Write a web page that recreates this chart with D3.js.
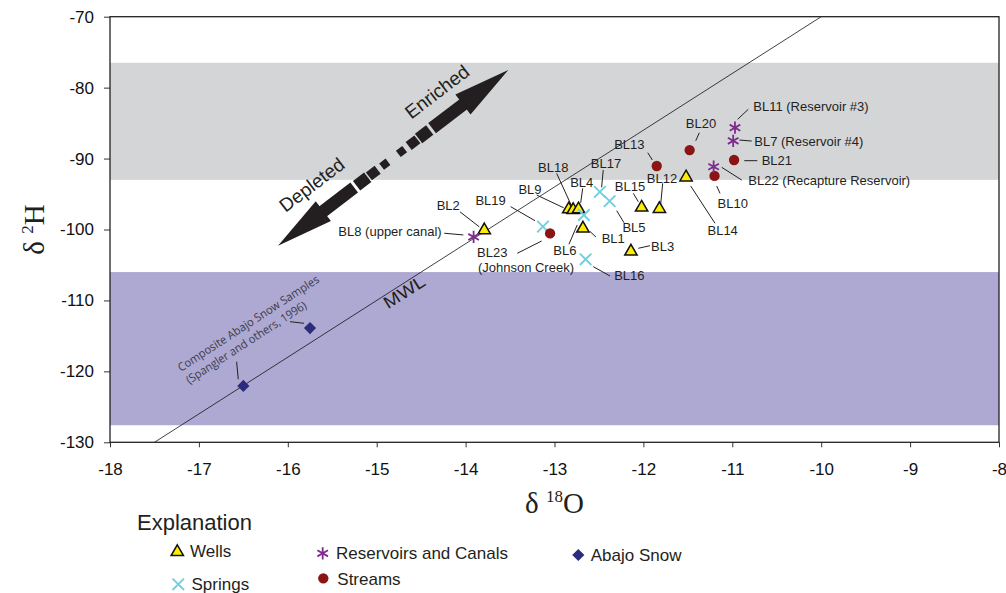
<!DOCTYPE html>
<html>
<head>
<meta charset="utf-8">
<script src="https://cdn.jsdelivr.net/npm/d3@7"></script>
<style>
	body { margin: 0; background: #fff; }
	svg { display: block; }
	text { font-family: "Liberation Sans", Arial, sans-serif; fill: #231f20; }
</style>
</head>
<body>
<svg id="chart" width="1006" height="593"></svg>
<script>
// ---- data ----
var xTicks = [-18, -17, -16, -15, -14, -13, -12, -11, -10, -9, -8];
var yTicks = [-130, -120, -110, -100, -90, -80, -70];
var enrichedBand = [-93, -76.5];
var depletedBand = [-127.6, -106];
var mwlX = [-17.5, -10];
var mwlY = [-130, -70];

var wells = [
	{id: "BL2", x: -13.79, y: -100.1},
	{id: "BL9", x: -12.84, y: -97.15},
	{id: "BL18", x: -12.79, y: -97.25},
	{id: "BL4", x: -12.73, y: -97.15},
	{id: "BL1", x: -12.68, y: -99.85},
	{id: "BL15", x: -12.02, y: -96.9},
	{id: "BL12", x: -11.82, y: -97.1},
	{id: "BL14", x: -11.52, y: -92.65},
	{id: "BL3", x: -12.14, y: -103.1}
];
var springs = [
	{id: "BL19", x: -13.13, y: -99.6},
	{id: "BL6", x: -12.67, y: -97.95},
	{id: "BL17", x: -12.49, y: -94.7},
	{id: "BL5", x: -12.38, y: -96.0},
	{id: "BL16", x: -12.65, y: -104.2}
];
var streams = [
	{id: "BL23", x: -13.05, y: -100.55, note: "(Johnson Creek)"},
	{id: "BL13", x: -11.85, y: -91.05},
	{id: "BL20", x: -11.48, y: -88.8},
	{id: "BL10", x: -11.2, y: -92.45},
	{id: "BL21", x: -10.98, y: -90.2}
];
var reservoirs = [
	{id: "BL8", x: -13.91, y: -101.05, note: "(upper canal)"},
	{id: "BL11", x: -10.97, y: -85.65, note: "(Reservoir #3)"},
	{id: "BL7", x: -10.99, y: -87.5, note: "(Reservoir #4)"},
	{id: "BL22", x: -11.21, y: -91.15, note: "(Recapture Reservoir)"}
];
var snow = [
	{x: -16.5, y: -122.05},
	{x: -15.75, y: -113.9}
];
var snowNote = ["Composite Abajo Snow Samples", "(Spangler and others, 1996)"];
var legendLabels = ["Wells", "Springs", "Reservoirs and Canals", "Streams", "Abajo Snow"];
// arrow tips, in data units (enriched, depleted)
var arrowTips = [[-13.52, -77.51], [-16.11, -102.29]];

// ---- label placement (pixel offsets from the point) ----
// dx,dy = text anchor, l = leader line x1,y1,x2,y2
var labelLayout = {
	BL13: {dx: -27.4, dy: -22, a: "middle", l: [-9, -13.3, -4.4, -6]},
	BL18: {dx: -19.9, dy: -42.6, a: "middle", l: [-16.5, -36.6, -1.5, -3.9]},
	BL17: {dx: 6.1, dy: -28.6, a: "middle", l: [3.4, -21.9, 1.8, -4.6]},
	BL4: {dx: 3.2, dy: -26.5, a: "middle", l: [4.2, -20.9, 2.2, -6.5]},
	BL9: {dx: -38.7, dy: -19.9, a: "middle", l: [-32, -14.2, -5, -1.5]},
	BL15: {dx: -11.6, dy: -20.8, a: "middle", l: [-8.3, -14.2, -3.3, -5.8]},
	BL12: {dx: 2.6, dy: -30.9, a: "middle", l: [3.3, -25.6, 1.3, -4.9]},
	BL14: {dx: 36.6, dy: 53.3, a: "middle", l: [4.6, 8.6, 28.9, 45.9]},
	BL2: {dx: -36, dy: -25.1, a: "middle", l: [-24.3, -18.4, -5, -3.4]},
	BL19: {dx: -52.3, dy: -26, a: "middle", l: [-32.3, -20, -8, -6]},
	BL8: {dx: -31.9, dy: -5, a: "end", l: [-29.3, -3.7, -10.3, -2]},
	BL1: {dx: 30.3, dy: 9.6, a: "middle", l: [7, 3, 13, 8.6]},
	BL5: {dx: 24.4, dy: 26.2, a: "middle", l: [7.1, 9.6, 14.4, 21.6]},
	BL6: {dx: -18.9, dy: 35.7, a: "middle", l: [-14.9, 29.3, -6.6, 10]},
	BL23: {dx: -57.8, dy: 19.3, a: "middle", l: [-32.8, 19.9, -8.4, 7.6], ndx: -24.1, ndy: 34.3},
	BL3: {dx: 31.7, dy: -4.8, a: "middle", l: [7.3, -3.2, 19, -5.8]},
	BL16: {dx: 43.7, dy: 15.7, a: "middle", l: [7.7, 7.4, 24.4, 16.7]},
	BL20: {dx: 11.4, dy: -26.7, a: "middle", l: [9.7, -17.3, 6.1, -9.3]},
	BL11: {dx: 18.3, dy: -21, a: "start", l: [13.3, -18.4, 2.7, -8.4]},
	BL7: {dx: 21.1, dy: 0.2, a: "start", l: [6.1, -0.8, 18.5, 0.2]},
	BL21: {dx: 27.6, dy: 0.7, a: "start", l: [10.2, 0.7, 23.2, 0.7]},
	BL22: {dx: 34.7, dy: 13.3, a: "start", l: [8.1, 0.6, 28.1, 13.3]},
	BL10: {dx: 18.2, dy: 27.4, a: "middle", l: [2.2, 10.1, 5.5, 17.4]}
};

var colors = {
	grey: "#d4d5d7", purple: "#aea9d2", well: "#ffec00", spring: "#6fd0e0",
	stream: "#8b1515", reservoir: "#7e2b8c", snow: "#2b2d7c", ink: "#231f20"
};

var svg = d3.select("#chart");
var x = d3.scaleLinear().domain([-18, -8]).range([110, 999]);
var y = d3.scaleLinear().domain([-130, -70]).range([442.3, 16.7]);
var plotW = x(-8) - x(-18), plotH = y(-130) - y(-70);

svg.append("clipPath").attr("id", "plotClip")
	.append("rect").attr("x", x(-18)).attr("y", y(-70)).attr("width", plotW).attr("height", plotH);

// bands
[[enrichedBand, colors.grey], [depletedBand, colors.purple]].forEach(function (b) {
	svg.append("rect")
		.attr("x", x(-18)).attr("width", plotW)
		.attr("y", y(b[0][1])).attr("height", y(b[0][0]) - y(b[0][1]))
		.attr("fill", b[1]);
});

// meteoric water line
svg.append("line")
	.attr("clip-path", "url(#plotClip)")
	.attr("x1", x(mwlX[0])).attr("y1", y(mwlY[0]))
	.attr("x2", x(mwlX[1])).attr("y2", y(mwlY[1]))
	.attr("stroke", "#111").attr("stroke-width", 0.8);

var mwlAngle = Math.atan2(y(mwlY[1]) - y(mwlY[0]), x(mwlX[1]) - x(mwlX[0])) * 180 / Math.PI;
svg.append("text")
	.attr("transform", "translate(" + x(-14.69) + "," + y(-108.8) + ") rotate(" + mwlAngle + ")")
	.attr("text-anchor", "middle").attr("dy", "0.35em")
	.attr("font-size", 17).attr("textLength", 46).attr("lengthAdjust", "spacingAndGlyphs")
	.text("MWL");

// enriched / depleted arrow
var tE = [x(arrowTips[0][0]), y(arrowTips[0][1])];
var tD = [x(arrowTips[1][0]), y(arrowTips[1][1])];
var aLen = Math.hypot(tE[0] - tD[0], tE[1] - tD[1]) / 2;
var aAng = Math.atan2(tE[1] - tD[1], tE[0] - tD[0]) * 180 / Math.PI;
var arrow = svg.append("g")
	.attr("transform", "translate(" + (tE[0] + tD[0]) / 2 + "," + (tE[1] + tD[1]) / 2 + ") rotate(" + aAng + ")");
var headL = 57, headW = 12.5;
var pieces = [[49, aLen - headL + 1, 6.3], [32, 46, 6], [19.5, 30.5, 5], [6.5, 14.5, 4]];
[1, -1].forEach(function (s) {
	arrow.append("path")
		.attr("d", "M" + s * aLen + ",0L" + s * (aLen - headL) + "," + (-headW) + "L" + s * (aLen - headL) + "," + headW + "Z")
		.attr("fill", colors.ink);
	pieces.forEach(function (p) {
		arrow.append("rect")
			.attr("x", s > 0 ? p[0] : -p[1]).attr("width", p[1] - p[0])
			.attr("y", -p[2]).attr("height", 2 * p[2])
			.attr("fill", colors.ink);
	});
});
arrow.append("text").attr("x", 75).attr("y", -26).attr("dy", "0.35em")
	.attr("text-anchor", "middle").attr("font-size", 19).text("Enriched");
arrow.append("text").attr("x", -81).attr("y", -28).attr("dy", "0.35em")
	.attr("text-anchor", "middle").attr("font-size", 19).text("Depleted");

// custom symbols
var crossType = {draw: function (ctx, size) {
	var r = Math.sqrt(size) / 2;
	ctx.moveTo(-r, -r); ctx.lineTo(r, r);
	ctx.moveTo(-r, r); ctx.lineTo(r, -r);
}};
var asteriskType = {draw: function (ctx, size) {
	var r = Math.sqrt(size) / 2;
	for (var k = 0; k < 3; k++) {
		var a = Math.PI / 2 + k * Math.PI / 3;
		ctx.moveTo(r * Math.cos(a), r * Math.sin(a));
		ctx.lineTo(-r * Math.cos(a), -r * Math.sin(a));
	}
}};
var sym = {
	tri: function (g) { g.attr("d", d3.symbol(d3.symbolTriangle, 66)()).attr("fill", colors.well).attr("stroke", "#111").attr("stroke-width", 1.5); },
	cross: function (g) { g.attr("d", d3.symbol(crossType, 132)()).attr("fill", "none").attr("stroke", colors.spring).attr("stroke-width", 1.9); },
	star: function (g) { g.attr("d", d3.symbol(asteriskType, 150)()).attr("fill", "none").attr("stroke", colors.reservoir).attr("stroke-width", 1.8); },
	dot: function (g) { g.attr("d", d3.symbol(d3.symbolCircle, 84)()).attr("fill", colors.stream); },
	diamond: function (g) { g.attr("d", d3.symbol(d3.symbolSquare, 74)()).attr("fill", colors.snow); }
};
function pos(d) { return "translate(" + x(d.x) + "," + y(d.y) + ")"; }

// leader lines and labels
var labelled = wells.concat(springs, streams, reservoirs);
var labels = svg.append("g");
labelled.forEach(function (d) {
	var L = labelLayout[d.id], px = x(d.x), py = y(d.y);
	labels.append("line")
		.attr("x1", px + L.l[0]).attr("y1", py + L.l[1])
		.attr("x2", px + L.l[2]).attr("y2", py + L.l[3])
		.attr("stroke", colors.ink).attr("stroke-width", 1);
	var inline = d.note && L.ndx === undefined;
	labels.append("text")
		.attr("x", px + L.dx).attr("y", py + L.dy).attr("dy", "0.35em")
		.attr("text-anchor", L.a).attr("font-size", 13)
		.text(inline ? d.id + " " + d.note : d.id);
	if (d.note && !inline) {
		labels.append("text")
			.attr("x", px + L.ndx).attr("y", py + L.ndy).attr("dy", "0.35em")
			.attr("text-anchor", "middle").attr("font-size", 13)
			.text(d.note);
	}
});

// snow note
var s0 = [x(snow[0].x), y(snow[0].y)], s1 = [x(snow[1].x), y(snow[1].y)];
[[s0, [-6.7, -24.2, -5.1, -6.6]], [s1, [-20, -6.4, -6, -4.8]]].forEach(function (q) {
	labels.append("line")
		.attr("x1", q[0][0] + q[1][0]).attr("y1", q[0][1] + q[1][1])
		.attr("x2", q[0][0] + q[1][2]).attr("y2", q[0][1] + q[1][3])
		.attr("stroke", colors.ink).attr("stroke-width", 1);
});
[[-61.7, -4.8, 166], [-63.8, 14.4, 141]].forEach(function (p, i) {
	labels.append("text")
		.attr("transform", "translate(" + (s1[0] + p[0]) + "," + (s1[1] + p[1]) + ") rotate(-33)")
		.attr("text-anchor", "middle").attr("dy", "0.35em")
		.style("font-family", "'Open Sans', 'Noto Sans', sans-serif")
		.attr("font-size", 11.5).attr("textLength", p[2]).attr("lengthAdjust", "spacingAndGlyphs")
		.style("fill", "#3a3a48")
		.text(snowNote[i]);
});

// markers
var marks = svg.append("g");
[[wells, "tri"], [springs, "cross"], [streams, "dot"], [reservoirs, "star"]].forEach(function (s) {
	marks.selectAll(null).data(s[0]).enter().append("path")
		.attr("transform", pos).call(sym[s[1]]);
});
marks.selectAll(null).data(snow).enter().append("path")
	.attr("transform", function (d) { return pos(d) + " rotate(45)"; })
	.call(sym.diamond);

// axes
var xAxis = svg.append("g")
	.attr("transform", "translate(0," + y(-130) + ")")
	.call(d3.axisBottom(x).tickValues(xTicks).tickSize(5).tickPadding(16).tickFormat(function (d) { return d; }));
var yAxis = svg.append("g")
	.attr("transform", "translate(" + x(-18) + ",0)")
	.call(d3.axisLeft(y).tickValues(yTicks).tickSize(6).tickPadding(10).tickFormat(function (d) { return d; }));
[xAxis, yAxis].forEach(function (a) {
	a.select(".domain").remove();
	a.selectAll(".tick line").attr("stroke", "#333");
	a.selectAll(".tick text").attr("font-size", 17).style("fill", "#111");
});

svg.append("rect")
	.attr("x", x(-18)).attr("y", y(-70)).attr("width", plotW).attr("height", plotH)
	.attr("fill", "none").attr("stroke", "#222").attr("stroke-width", 1.3);

// axis titles
var serif = "'Liberation Serif', 'Times New Roman', serif";
var xt = svg.append("text")
	.attr("x", (x(-18) + x(-8)) / 2).attr("y", 513)
	.attr("text-anchor", "middle").style("font-family", serif).attr("font-size", 29);
xt.append("tspan").text("δ ");
xt.append("tspan").attr("font-size", 17).attr("dy", -11).text("18");
xt.append("tspan").attr("dy", 11).text("O");

var yt = svg.append("text")
	.attr("transform", "translate(44," + (y(-70) + y(-130)) / 2 + ") rotate(-90)")
	.attr("text-anchor", "middle").style("font-family", serif).attr("font-size", 29);
yt.append("tspan").text("δ ");
yt.append("tspan").attr("font-size", 17).attr("dy", -11).text("2");
yt.append("tspan").attr("dy", 11).text("H");

// legend
svg.append("text").attr("x", 137).attr("y", 530).attr("font-size", 22).text("Explanation");
var legendLayout = [
	{sym: "tri", mx: 177.3, my: 552, tx: 190, ty: 557.3},
	{sym: "cross", mx: 178.3, my: 584.3, tx: 191.5, ty: 590},
	{sym: "star", mx: 322.7, my: 553.3, tx: 336, ty: 559.3},
	{sym: "dot", mx: 323.3, my: 578.3, tx: 337.3, ty: 585},
	{sym: "diamond", mx: 578.3, my: 555, tx: 590.7, ty: 560.7}
];
var legend = svg.append("g");
legendLabels.forEach(function (lab, i) {
	var L = legendLayout[i];
	legend.append("path")
		.attr("transform", "translate(" + L.mx + "," + L.my + ")" + (L.sym === "diamond" ? " rotate(45)" : ""))
		.call(sym[L.sym]);
	legend.append("text").attr("x", L.tx).attr("y", L.ty).attr("font-size", 17).text(lab);
});
</script>
</body>
</html>
